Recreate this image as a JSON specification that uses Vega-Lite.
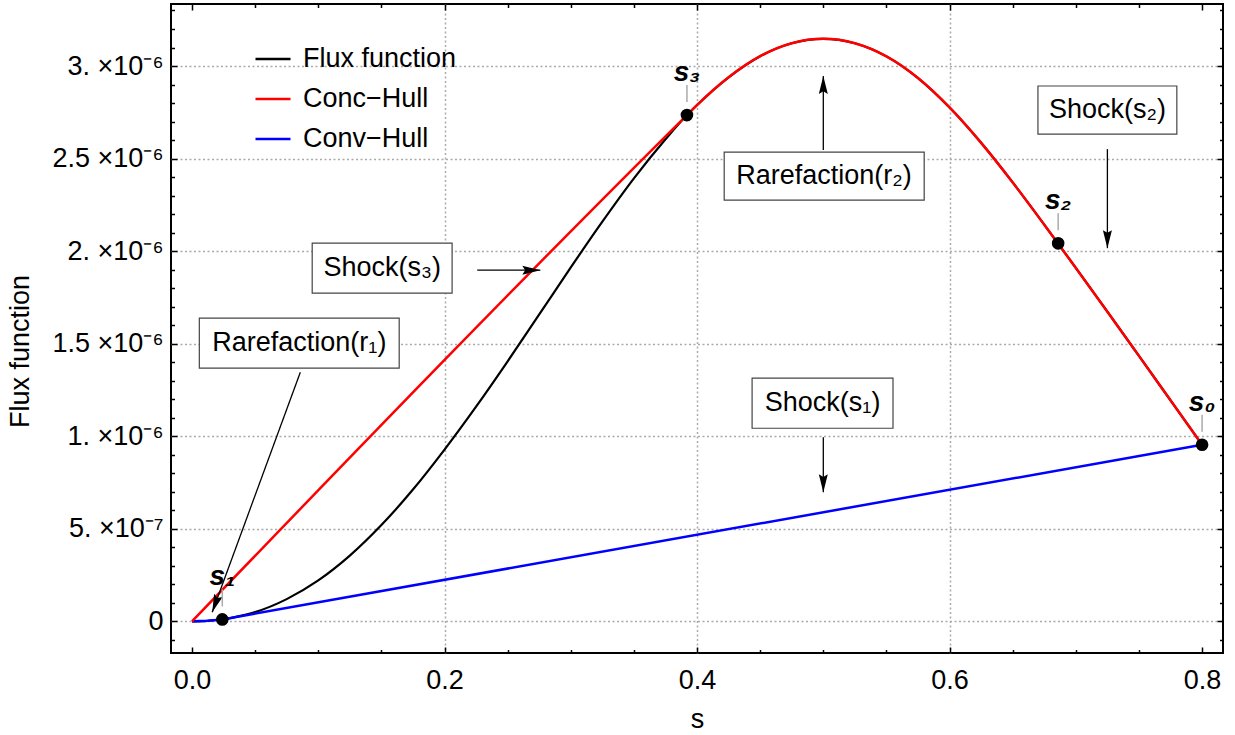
{
  "$schema": "https://vega.github.io/schema/vega-lite/v6.json",
  "width": 1052,
  "height": 649,
  "autosize": "none",
  "padding": {"left": 171, "top": 4, "right": 12, "bottom": 82},
  "background": "white",
  "config": {
    "view": {"stroke": "black", "strokeWidth": 2},
    "font": "Liberation Sans",
    "axis": {"domain": false, "tickColor": "black", "tickWidth": 1.5, "labelColor": "black", "labelFont": "Liberation Sans", "labelFontSize": 27, "titleFont": "Liberation Sans", "titleFontSize": 27, "titleFontWeight": "normal", "titleColor": "black", "labelFlush": false, "labelOverlap": false, "gridColor": "#aaaaaa", "gridDash": [2, 2.5], "gridWidth": 1.5}
  },
  "datasets": {
    "curves": [
      {"series": "Flux function", "s": 0, "f": 0},
      {"series": "Flux function", "s": 0.0125, "f": 2.8e-9},
      {"series": "Flux function", "s": 0.025, "f": 1.12e-8},
      {"series": "Flux function", "s": 0.0375, "f": 2.8e-8},
      {"series": "Flux function", "s": 0.05, "f": 5.0e-8},
      {"series": "Flux function", "s": 0.075, "f": 1.2e-7},
      {"series": "Flux function", "s": 0.1, "f": 2.21e-7},
      {"series": "Flux function", "s": 0.125, "f": 3.55e-7},
      {"series": "Flux function", "s": 0.15, "f": 5.2e-7},
      {"series": "Flux function", "s": 0.175, "f": 7.12e-7},
      {"series": "Flux function", "s": 0.2, "f": 9.28e-7},
      {"series": "Flux function", "s": 0.225, "f": 1.16e-6},
      {"series": "Flux function", "s": 0.25, "f": 1.405e-6},
      {"series": "Flux function", "s": 0.275, "f": 1.658e-6},
      {"series": "Flux function", "s": 0.3, "f": 1.912e-6},
      {"series": "Flux function", "s": 0.325, "f": 2.159e-6},
      {"series": "Flux function", "s": 0.35, "f": 2.393e-6},
      {"series": "Flux function", "s": 0.375, "f": 2.604e-6},
      {"series": "Flux function", "s": 0.392, "f": 2.735e-6},
      {"series": "Flux function", "s": 0.4, "f": 2.789e-6},
      {"series": "Flux function", "s": 0.425, "f": 2.939e-6},
      {"series": "Flux function", "s": 0.45, "f": 3.053e-6},
      {"series": "Flux function", "s": 0.475, "f": 3.123e-6},
      {"series": "Flux function", "s": 0.5, "f": 3.147e-6},
      {"series": "Flux function", "s": 0.525, "f": 3.123e-6},
      {"series": "Flux function", "s": 0.55, "f": 3.052e-6},
      {"series": "Flux function", "s": 0.575, "f": 2.935e-6},
      {"series": "Flux function", "s": 0.6, "f": 2.776e-6},
      {"series": "Flux function", "s": 0.625, "f": 2.585e-6},
      {"series": "Flux function", "s": 0.65, "f": 2.371e-6},
      {"series": "Flux function", "s": 0.675, "f": 2.143e-6},
      {"series": "Flux function", "s": 0.7, "f": 1.909e-6},
      {"series": "Flux function", "s": 0.725, "f": 1.673e-6},
      {"series": "Flux function", "s": 0.75, "f": 1.434e-6},
      {"series": "Flux function", "s": 0.775, "f": 1.194e-6},
      {"series": "Flux function", "s": 0.8, "f": 9.54e-7},
      {"series": "Conc−Hull", "s": 0, "f": 0},
      {"series": "Conc−Hull", "s": 0.392, "f": 2.735e-6},
      {"series": "Conc−Hull", "s": 0.4, "f": 2.789e-6},
      {"series": "Conc−Hull", "s": 0.425, "f": 2.939e-6},
      {"series": "Conc−Hull", "s": 0.45, "f": 3.053e-6},
      {"series": "Conc−Hull", "s": 0.475, "f": 3.123e-6},
      {"series": "Conc−Hull", "s": 0.5, "f": 3.147e-6},
      {"series": "Conc−Hull", "s": 0.525, "f": 3.123e-6},
      {"series": "Conc−Hull", "s": 0.55, "f": 3.052e-6},
      {"series": "Conc−Hull", "s": 0.575, "f": 2.935e-6},
      {"series": "Conc−Hull", "s": 0.6, "f": 2.776e-6},
      {"series": "Conc−Hull", "s": 0.625, "f": 2.585e-6},
      {"series": "Conc−Hull", "s": 0.65, "f": 2.371e-6},
      {"series": "Conc−Hull", "s": 0.675, "f": 2.143e-6},
      {"series": "Conc−Hull", "s": 0.7, "f": 1.909e-6},
      {"series": "Conc−Hull", "s": 0.725, "f": 1.673e-6},
      {"series": "Conc−Hull", "s": 0.75, "f": 1.434e-6},
      {"series": "Conc−Hull", "s": 0.775, "f": 1.194e-6},
      {"series": "Conc−Hull", "s": 0.8, "f": 9.54e-7},
      {"series": "Conv−Hull", "s": 0, "f": 0},
      {"series": "Conv−Hull", "s": 0.0125, "f": 2.8e-9},
      {"series": "Conv−Hull", "s": 0.024, "f": 1.05e-8},
      {"series": "Conv−Hull", "s": 0.8, "f": 9.54e-7}
    ],
    "points": [
      {"name": "s₀", "s": 0.8, "f": 9.54e-7},
      {"name": "s₁", "s": 0.024, "f": 1.05e-8},
      {"name": "s₂", "s": 0.686, "f": 2.042e-6},
      {"name": "s₃", "s": 0.392, "f": 2.735e-6}
    ],
    "annot": [
      {"label": "Rarefaction(r₂)", "bx1": 0.4215, "bx2": 0.5799, "by1": 2.276e-6, "by2": 2.535e-6, "tx": 0.5005, "ty": 2.405e-6, "ax1": 0.5, "ay1": 2.546e-6, "ax2": 0.5, "ay2": 2.946e-6, "angle": 0},
      {"label": "Shock(s₂)", "bx1": 0.67, "bx2": 0.78, "by1": 2.632e-6, "by2": 2.892e-6, "tx": 0.725, "ty": 2.762e-6, "ax1": 0.725, "ay1": 2.551e-6, "ax2": 0.725, "ay2": 2.016e-6, "angle": 180},
      {"label": "Shock(s₃)", "bx1": 0.0952, "bx2": 0.206, "by1": 1.773e-6, "by2": 2.043e-6, "tx": 0.1506, "ty": 1.908e-6, "ax1": 0.2259, "ay1": 1.897e-6, "ax2": 0.2759, "ay2": 1.897e-6, "angle": 90},
      {"label": "Rarefaction(r₁)", "bx1": 0.0058, "bx2": 0.1641, "by1": 1.368e-6, "by2": 1.638e-6, "tx": 0.085, "ty": 1.503e-6, "ax1": 0.0858, "ay1": 1.346e-6, "ax2": 0.016, "ay2": 4.9e-8, "angle": 200},
      {"label": "Shock(s₁)", "bx1": 0.4436, "bx2": 0.5552, "by1": 1.043e-6, "by2": 1.3135e-6, "tx": 0.4994, "ty": 1.178e-6, "ax1": 0.5, "ay1": 9.95e-7, "ax2": 0.5, "ay2": 6.97e-7, "angle": 180}
    ]
  },
  "layer": [
    {
      "data": {"name": "curves"},
      "transform": [{"filter": "datum.series === 'Flux function'"}],
      "mark": {"type": "line", "strokeWidth": 2.2, "interpolate": "monotone"},
      "encoding": {
        "x": {"field": "s", "type": "quantitative", "scale": {"domain": [-0.01663, 0.81656], "nice": false, "zero": false},
          "axis": {"orient": "bottom", "values": [0, 0.2, 0.4, 0.6, 0.8], "format": ".1f", "tickSize": -6, "labelPadding": 20, "grid": false, "title": "s", "titleBaseline": "alphabetic", "titleY": 74}},
        "y": {"field": "f", "type": "quantitative", "scale": {"domain": [-1.71e-7, 3.335e-6], "nice": false, "zero": false},
          "axis": {"orient": "left", "values": [0, 5e-7, 1e-6, 1.5e-6, 2e-6, 2.5e-6, 3e-6], "tickSize": -6, "labelPadding": 14, "grid": true,
            "labelExpr": "datum.value == 0 ? '0' : (abs(datum.value - 5e-7) < 1e-9 ? '5. ×10⁻⁷' : (round(datum.value*2e6) % 2 == 0 ? round(datum.value*1e6) + '. ×10⁻⁶' : (round(datum.value*2e6)/2) + ' ×10⁻⁶'))",
            "title": "Flux function", "titleAngle": -90, "titleX": -151, "titleY": 347, "titleAlign": "center", "titleBaseline": "middle"}},
        "color": {"field": "series", "type": "nominal",
          "scale": {"domain": ["Flux function", "Conc−Hull", "Conv−Hull"], "range": ["#000000", "#ff0000", "#0000ff"]},
          "legend": {"orient": "none", "legendX": 83, "legendY": 36, "title": null, "symbolType": "stroke", "symbolSize": 1225, "symbolStrokeWidth": 2.5, "labelFontSize": 27, "labelFont": "Liberation Sans", "labelColor": "black", "labelOffset": 11, "rowPadding": 8, "padding": 0}}
      }
    },
    {
      "data": {"name": "curves"},
      "transform": [{"filter": "datum.series === 'Conv−Hull'"}],
      "mark": {"type": "line", "strokeWidth": 2.5},
      "encoding": {
        "x": {"field": "s", "type": "quantitative", "axis": {"orient": "bottom", "values": [0.05, 0.1, 0.15, 0.25, 0.3, 0.35, 0.45, 0.5, 0.55, 0.65, 0.7, 0.75], "tickSize": -3.5, "labels": false, "grid": false, "title": null}},
        "y": {"field": "f", "type": "quantitative", "axis": {"orient": "left", "values": [-1e-7, 1e-7, 2e-7, 3e-7, 4e-7, 6e-7, 7e-7, 8e-7, 9e-7, 1.1e-6, 1.2e-6, 1.3e-6, 1.4e-6, 1.6e-6, 1.7e-6, 1.8e-6, 1.9e-6, 2.1e-6, 2.2e-6, 2.3e-6, 2.4e-6, 2.6e-6, 2.7e-6, 2.8e-6, 2.9e-6, 3.1e-6, 3.2e-6, 3.3e-6], "tickSize": -3.5, "labels": false, "grid": false, "title": null}},
        "color": {"field": "series", "type": "nominal"}
      }
    },
    {
      "data": {"name": "curves"},
      "transform": [{"filter": "datum.series === 'Conc−Hull'"}],
      "mark": {"type": "line", "strokeWidth": 2.5, "interpolate": "monotone"},
      "encoding": {
        "x": {"field": "s", "type": "quantitative", "axis": {"orient": "top", "values": [0, 0.2, 0.4, 0.6, 0.8], "tickSize": -6, "labels": false, "grid": false, "title": null}},
        "y": {"field": "f", "type": "quantitative", "axis": {"orient": "right", "values": [0, 5e-7, 1e-6, 1.5e-6, 2e-6, 2.5e-6, 3e-6], "tickSize": -6, "labels": false, "grid": false, "title": null}},
        "color": {"field": "series", "type": "nominal"}
      }
    },
    {
      "data": {"name": "annot"},
      "mark": {"type": "rect", "fill": "white", "stroke": "#444444", "strokeWidth": 1.2},
      "encoding": {
        "x": {"field": "bx1", "type": "quantitative", "axis": {"orient": "top", "values": [0.05, 0.1, 0.15, 0.25, 0.3, 0.35, 0.45, 0.5, 0.55, 0.65, 0.7, 0.75], "tickSize": -3.5, "labels": false, "grid": false, "title": null}},
        "x2": {"field": "bx2"},
        "y": {"field": "by1", "type": "quantitative", "axis": {"orient": "right", "values": [-1e-7, 1e-7, 2e-7, 3e-7, 4e-7, 6e-7, 7e-7, 8e-7, 9e-7, 1.1e-6, 1.2e-6, 1.3e-6, 1.4e-6, 1.6e-6, 1.7e-6, 1.8e-6, 1.9e-6, 2.1e-6, 2.2e-6, 2.3e-6, 2.4e-6, 2.6e-6, 2.7e-6, 2.8e-6, 2.9e-6, 3.1e-6, 3.2e-6, 3.3e-6], "tickSize": -3.5, "labels": false, "grid": false, "title": null}},
        "y2": {"field": "by2"}
      }
    },
    {
      "data": {"name": "annot"},
      "mark": {"type": "text", "fontSize": 27, "font": "Liberation Sans", "color": "black", "align": "center", "baseline": "middle"},
      "encoding": {
        "x": {"field": "tx", "type": "quantitative", "axis": {"orient": "bottom", "values": [0.2, 0.4, 0.6], "ticks": false, "labels": false, "grid": true, "title": null}},
        "y": {"field": "ty", "type": "quantitative", "axis": null},
        "text": {"field": "label"}
      }
    },
    {
      "data": {"name": "annot"},
      "mark": {"type": "rule", "color": "black", "strokeWidth": 1.3},
      "encoding": {
        "x": {"field": "ax1", "type": "quantitative", "axis": null},
        "y": {"field": "ay1", "type": "quantitative", "axis": null},
        "x2": {"field": "ax2"},
        "y2": {"field": "ay2"}
      }
    },
    {
      "data": {"name": "annot"},
      "mark": {"type": "point", "shape": "M0,0L0.5,2L0,1.7L-0.5,2Z", "size": 324, "filled": true, "color": "black", "opacity": 1},
      "encoding": {
        "x": {"field": "ax2", "type": "quantitative", "axis": null},
        "y": {"field": "ay2", "type": "quantitative", "axis": null},
        "angle": {"field": "angle", "type": "quantitative", "scale": null}
      }
    },
    {
      "data": {"name": "points"},
      "mark": {"type": "rule", "color": "#aaaaaa", "strokeWidth": 1.5, "yOffset": -30, "y2Offset": -13},
      "encoding": {
        "x": {"field": "s", "type": "quantitative", "axis": null},
        "y": {"field": "f", "type": "quantitative", "axis": null},
        "y2": {"field": "f"}
      }
    },
    {
      "data": {"name": "points"},
      "mark": {"type": "circle", "size": 160, "color": "black", "opacity": 1},
      "encoding": {
        "x": {"field": "s", "type": "quantitative", "axis": null},
        "y": {"field": "f", "type": "quantitative", "axis": null}
      }
    },
    {
      "data": {"name": "points"},
      "mark": {"type": "text", "fontSize": 28, "font": "Liberation Sans", "fontStyle": "italic", "fontWeight": "bold", "color": "black", "align": "center", "baseline": "middle", "dy": -42},
      "encoding": {
        "x": {"field": "s", "type": "quantitative", "axis": null},
        "y": {"field": "f", "type": "quantitative", "axis": null},
        "text": {"field": "name"}
      }
    }
  ]
}
